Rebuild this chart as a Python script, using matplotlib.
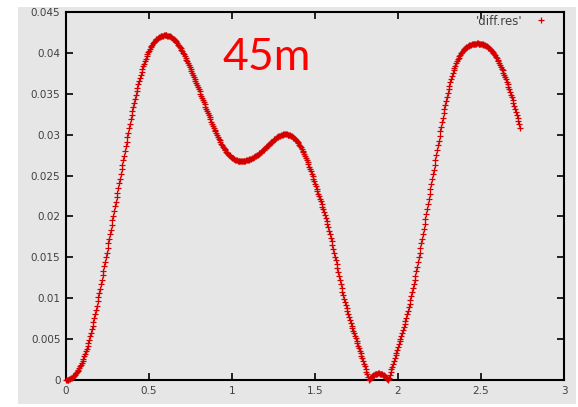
import numpy as np
import matplotlib
matplotlib.use("Agg")
import matplotlib.pyplot as plt
from matplotlib.patches import Rectangle

# sampled curve 'diff.res', one value every x_step, starting at x = 0
x_step = 0.005
diff_res = [
    0, 0.00001, 0.00002, 0.00004, 0.00008, 0.00013, 0.00019, 0.00026, 0.00034, 0.00044,
    0.00055, 0.00067, 0.00080, 0.00095, 0.00110, 0.00128, 0.00146, 0.00166, 0.00187, 0.00210,
    0.00234, 0.00260, 0.00288, 0.00318, 0.00349, 0.00383, 0.00418, 0.00455, 0.00494, 0.00535,
    0.00577, 0.00621, 0.00666, 0.00713, 0.00760, 0.00809, 0.00858, 0.00909, 0.00960, 0.01012,
    0.01064, 0.01117, 0.01171, 0.01225, 0.01280, 0.01335, 0.01391, 0.01446, 0.01502, 0.01558,
    0.01614, 0.01671, 0.01727, 0.01784, 0.01840, 0.01897, 0.01953, 0.02010, 0.02066, 0.02123,
    0.02179, 0.02236, 0.02292, 0.02349, 0.02405, 0.02462, 0.02518, 0.02575, 0.02631, 0.02688,
    0.02744, 0.02801, 0.02857, 0.02913, 0.02969, 0.03025, 0.03080, 0.03135, 0.03188, 0.03241,
    0.03292, 0.03343, 0.03392, 0.03440, 0.03486, 0.03531, 0.03575, 0.03617, 0.03658, 0.03697,
    0.03735, 0.03771, 0.03806, 0.03839, 0.03870, 0.03900, 0.03929, 0.03956, 0.03981, 0.04005,
    0.04027, 0.04048, 0.04067, 0.04085, 0.04102, 0.04117, 0.04131, 0.04144, 0.04156, 0.04166,
    0.04175, 0.04183, 0.04191, 0.04197, 0.04201, 0.04205, 0.04209, 0.04211, 0.04213, 0.04214,
    0.04214, 0.04213, 0.04212, 0.04209, 0.04206, 0.04201, 0.04195, 0.04189, 0.04182, 0.04173,
    0.04164, 0.04153, 0.04142, 0.04129, 0.04116, 0.04102, 0.04087, 0.04071, 0.04054, 0.04037,
    0.04019, 0.04000, 0.03981, 0.03961, 0.03940, 0.03919, 0.03897, 0.03875, 0.03852, 0.03829,
    0.03805, 0.03781, 0.03757, 0.03732, 0.03707, 0.03682, 0.03657, 0.03631, 0.03606, 0.03580,
    0.03554, 0.03528, 0.03502, 0.03475, 0.03449, 0.03422, 0.03396, 0.03369, 0.03343, 0.03316,
    0.03290, 0.03264, 0.03238, 0.03212, 0.03187, 0.03161, 0.03136, 0.03111, 0.03087, 0.03063,
    0.03039, 0.03016, 0.02994, 0.02972, 0.02950, 0.02930, 0.02910, 0.02891, 0.02872, 0.02855,
    0.02839, 0.02822, 0.02807, 0.02793, 0.02780, 0.02768, 0.02756, 0.02746, 0.02736, 0.02727,
    0.02719, 0.02712, 0.02706, 0.02700, 0.02695, 0.02691, 0.02687, 0.02684, 0.02682, 0.02680,
    0.02679, 0.02678, 0.02678, 0.02679, 0.02680, 0.02681, 0.02683, 0.02685, 0.02688, 0.02691,
    0.02694, 0.02698, 0.02702, 0.02706, 0.02711, 0.02716, 0.02722, 0.02728, 0.02734, 0.02741,
    0.02748, 0.02755, 0.02763, 0.02771, 0.02780, 0.02789, 0.02798, 0.02808, 0.02817, 0.02827,
    0.02837, 0.02847, 0.02857, 0.02867, 0.02877, 0.02887, 0.02897, 0.02907, 0.02916, 0.02925,
    0.02934, 0.02943, 0.02951, 0.02958, 0.02966, 0.02972, 0.02979, 0.02984, 0.02989, 0.02994,
    0.02998, 0.03001, 0.03003, 0.03004, 0.03005, 0.03004, 0.03003, 0.03001, 0.02999, 0.02995,
    0.02990, 0.02985, 0.02980, 0.02972, 0.02964, 0.02955, 0.02946, 0.02934, 0.02921, 0.02908,
    0.02895, 0.02878, 0.02861, 0.02844, 0.02826, 0.02805, 0.02783, 0.02761, 0.02739, 0.02714,
    0.02688, 0.02662, 0.02636, 0.02608, 0.02580, 0.02551, 0.02522, 0.02492, 0.02462, 0.02432,
    0.02402, 0.02371, 0.02341, 0.02310, 0.02279, 0.02248, 0.02216, 0.02184, 0.02152, 0.02119,
    0.02086, 0.02052, 0.02017, 0.01981, 0.01944, 0.01906, 0.01867, 0.01826, 0.01784, 0.01741,
    0.01697, 0.01651, 0.01605, 0.01558, 0.01510, 0.01462, 0.01413, 0.01364, 0.01315, 0.01266,
    0.01218, 0.01171, 0.01125, 0.01080, 0.01037, 0.00994, 0.00953, 0.00914, 0.00876, 0.00839,
    0.00802, 0.00767, 0.00733, 0.00699, 0.00666, 0.00634, 0.00602, 0.00570, 0.00539, 0.00508,
    0.00478, 0.00447, 0.00416, 0.00386, 0.00355, 0.00325, 0.00294, 0.00263, 0.00232, 0.00200,
    0.00169, 0.00136, 0.00103, 0.00070, 0.00036, 0.00005, 0.00018, 0.00029, 0.00039, 0.00048,
    0.00056, 0.00063, 0.00069, 0.00073, 0.00076, 0.00079, 0.00080, 0.00080, 0.00079, 0.00076,
    0.00073, 0.00069, 0.00063, 0.00056, 0.00048, 0.00039, 0.00029, 0.00018, 0.00005, 0.00020,
    0.00058, 0.00094, 0.00129, 0.00164, 0.00198, 0.00233, 0.00267, 0.00301, 0.00335, 0.00369,
    0.00403, 0.00437, 0.00472, 0.00506, 0.00541, 0.00576, 0.00612, 0.00649, 0.00686, 0.00724,
    0.00763, 0.00803, 0.00845, 0.00888, 0.00932, 0.00977, 0.01024, 0.01073, 0.01123, 0.01173,
    0.01224, 0.01277, 0.01331, 0.01386, 0.01441, 0.01498, 0.01555, 0.01613, 0.01671, 0.01730,
    0.01790, 0.01849, 0.01909, 0.01969, 0.02029, 0.02090, 0.02150, 0.02211, 0.02271, 0.02332,
    0.02392, 0.02452, 0.02513, 0.02573, 0.02633, 0.02693, 0.02752, 0.02811, 0.02870, 0.02928,
    0.02985, 0.03042, 0.03099, 0.03154, 0.03209, 0.03262, 0.03315, 0.03366, 0.03415, 0.03464,
    0.03511, 0.03555, 0.03598, 0.03640, 0.03680, 0.03717, 0.03752, 0.03785, 0.03817, 0.03845,
    0.03872, 0.03897, 0.03921, 0.03942, 0.03961, 0.03979, 0.03996, 0.04010, 0.04024, 0.04036,
    0.04048, 0.04057, 0.04066, 0.04074, 0.04082, 0.04088, 0.04093, 0.04098, 0.04102, 0.04105,
    0.04108, 0.04110, 0.04112, 0.04113, 0.04114, 0.04115, 0.04115, 0.04114, 0.04114, 0.04112,
    0.04111, 0.04109, 0.04106, 0.04102, 0.04098, 0.04093, 0.04087, 0.04081, 0.04074, 0.04065,
    0.04056, 0.04047, 0.04037, 0.04025, 0.04013, 0.03999, 0.03985, 0.03969, 0.03952, 0.03935,
    0.03917, 0.03897, 0.03877, 0.03855, 0.03833, 0.03809, 0.03785, 0.03759, 0.03733, 0.03705,
    0.03677, 0.03648, 0.03618, 0.03587, 0.03555, 0.03523, 0.03490, 0.03456, 0.03421, 0.03386,
    0.03351, 0.03315, 0.03278, 0.03241, 0.03203, 0.03165, 0.03126, 0.03087,
]

x_ticks = [0, 0.5, 1, 1.5, 2, 2.5, 3]
x_tick_labels = ["0", "0.5", "1", "1.5", "2", "2.5", "3"]
y_ticks = [0, 0.005, 0.01, 0.015, 0.02, 0.025, 0.03, 0.035, 0.04, 0.045]
y_tick_labels = ["0", "0.005", "0.01", "0.015", "0.02", "0.025", "0.03", "0.035", "0.04", "0.045"]
series_label = "'diff.res'"
note_text = "45m"

x = np.arange(len(diff_res)) * x_step

W, H = 578, 407
fig = plt.figure(figsize=(W / 100, H / 100), dpi=100, facecolor="white")

# grey panel behind the plot (screenshot background)
fig.patches.append(Rectangle((18 / W, 3 / H), (576 - 18) / W, (400 - 3) / H,
                             transform=fig.transFigure, facecolor="#e6e6e6",
                             edgecolor="none", zorder=-5))

ax = fig.add_axes([66 / W, (H - 380) / H, (564 - 66) / W, (380 - 12) / H])
ax.set_facecolor("none")
ax.set_zorder(2)

ax.plot(x, diff_res, "+", color="#d40000", ms=5, mew=0.9, label=series_label,
        clip_on=False, zorder=3)

ax.set_xlim(0, 3)
ax.set_ylim(0, 0.045)
ax.set_xticks(x_ticks)
ax.set_xticklabels(x_tick_labels)
ax.set_yticks(y_ticks)
ax.set_yticklabels(y_tick_labels)

ax.tick_params(direction="in", length=5, width=1.2, top=True, right=True,
               labelsize=7.5, labelcolor="#404040", pad=4, color="black")
for sp in ax.spines.values():
    sp.set_linewidth(1.5)
    sp.set_color("black")

leg = ax.legend(loc="upper right", bbox_to_anchor=(0.966, 0.993), markerfirst=False,
                frameon=False, fontsize=8.5, handlelength=1.0, handletextpad=1.1,
                borderaxespad=0, borderpad=0)
for t in leg.get_texts():
    t.set_color("#404040")

fig.text(222 / W, 1 - 70 / H, note_text, color="#ff0000", fontsize=32,
         family="Lato", va="baseline", ha="left", zorder=5)

fig.savefig("out.png", dpi=100, facecolor=fig.get_facecolor())
